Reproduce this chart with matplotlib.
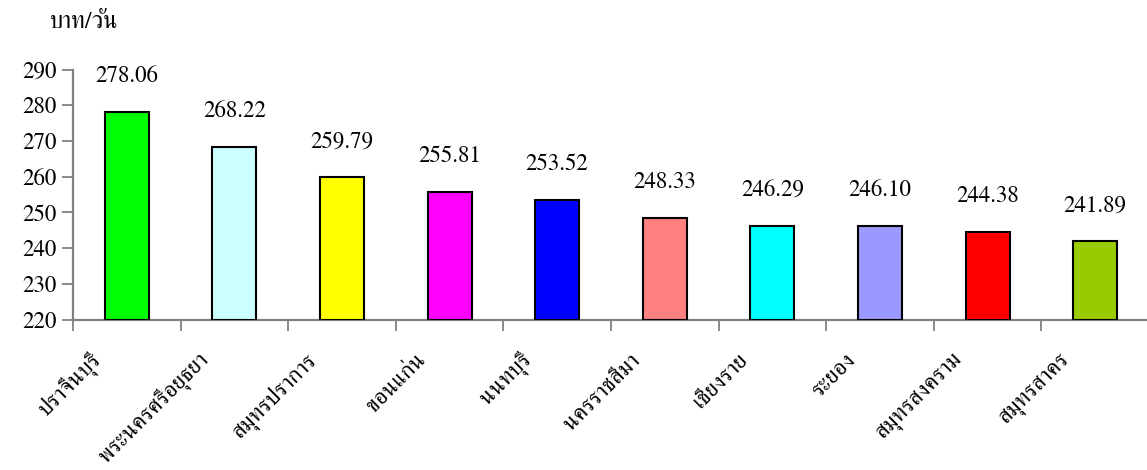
import matplotlib
matplotlib.use('Agg')
import matplotlib.pyplot as plt
import numpy as np

plt.rcParams['font.family'] = ['FreeSerif', 'DejaVu Serif']

provinces = ['ปราจีนบุรี', 'พระนครศรีอยุธยา', 'สมุทรปราการ', 'ขอนแก่น', 'นนทบุรี',
             'นครราชสีมา', 'เชียงราย', 'ระยอง', 'สมุทรสงคราม', 'สมุทรสาคร']
wages = [278.06, 268.22, 259.79, 255.81, 253.52, 248.33, 246.29, 246.10, 244.38, 241.89]
colors = ['#00FF00', '#CCFFFF', '#FFFF00', '#FF00FF', '#0000FF',
          '#FF8080', '#00FFFF', '#9999FF', '#FF0000', '#99CC00']

fig = plt.figure(figsize=(11.47, 4.7), dpi=100)
ax = fig.add_axes([73 / 1147, 150.5 / 470, 1076 / 1147, 250 / 470])

x = np.arange(len(provinces))
ax.bar(x, [w - 220 for w in wages], bottom=220, width=0.41, color=colors,
       edgecolor='black', linewidth=1.5, zorder=3)

# value labels above the bars
for xi, w in zip(x, wages):
    ax.text(xi, w + 10, '%.2f' % w, ha='center', va='center', fontsize=16.5)

ax.set_xlim(-0.5, len(provinces) - 0.5)
ax.set_ylim(220, 290)
ax.set_yticks(range(220, 291, 10))
ax.set_xticks([])
ax.set_xticks(np.arange(-0.5, len(provinces)), minor=True)
ax.tick_params(axis='x', which='minor', length=8, width=1.3, color='#808080')
ax.tick_params(axis='y', length=8, width=1.3, color='#808080', labelsize=16.5, pad=4)

for s in ['top', 'right']:
    ax.spines[s].set_visible(False)
for s in ['left', 'bottom']:
    ax.spines[s].set_color('#808080')
    ax.spines[s].set_linewidth(1.6)

# rotated province names
for xi, name in zip(x, provinces):
    ax.annotate(name, xy=(xi, 220), xytext=(-20, -27), textcoords='offset points',
                ha='right', va='center', rotation=45, rotation_mode='anchor',
                fontsize=16.5, annotation_clip=False)

fig.text(50 / 1147, 1 - 22 / 470, 'บาท/วัน', ha='left', va='center', fontsize=17)

fig.savefig('out.png')
